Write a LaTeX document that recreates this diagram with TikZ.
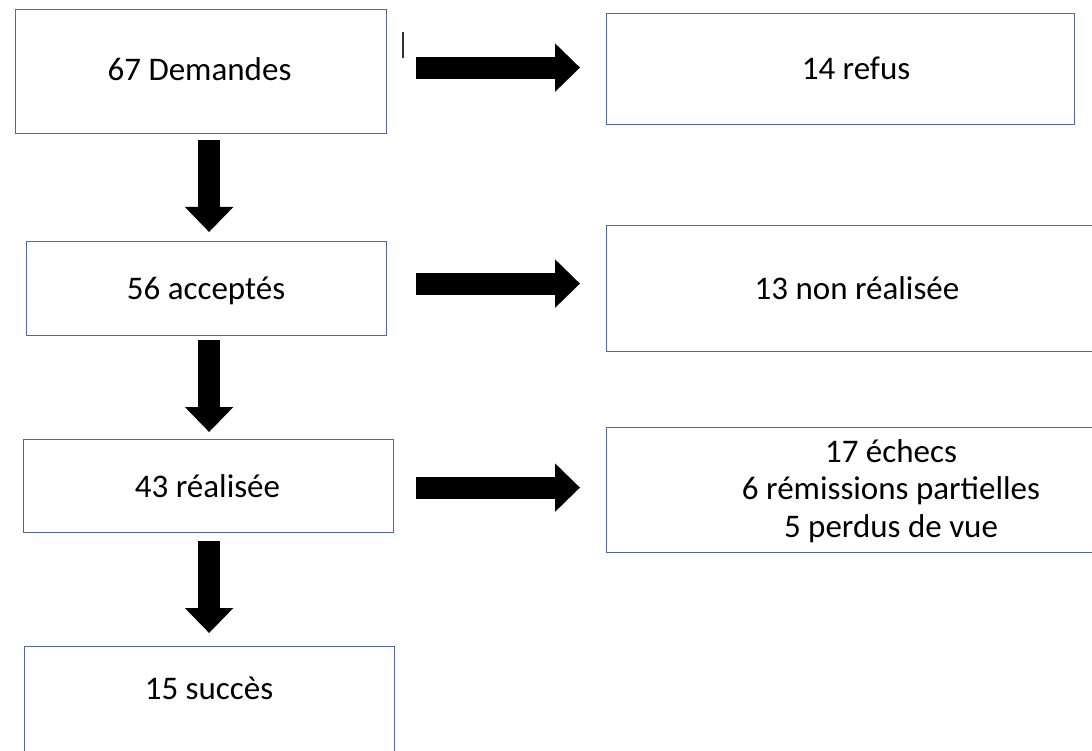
\documentclass[tikz,border=0pt]{standalone}
\usepackage{fontspec}
\setmainfont{Carlito}
\usetikzlibrary{arrows.meta,calc}
\definecolor{boxline}{RGB}{82,104,150}
\tikzset{
  box/.style={draw=boxline, line width=1.2pt, rectangle, anchor=north west, inner sep=0pt},
  lbl/.style={anchor=base, inner sep=0pt, font=\fontsize{33}{37.5}\selectfont, align=center},
  bigarrow/.style={line width=22pt, -{Triangle[length=25pt,width=47pt]}, black},
}
\begin{document}
\begin{tikzpicture}[x=1pt,y=-1pt]
\useasboundingbox (0,0) rectangle (1092,751);
% left column boxes
\node[box, minimum width=371pt, minimum height=124pt] (b1) at (15,9) {};
\node[box, minimum width=360pt, minimum height=94pt] (b2) at (26,241) {};
\node[box, minimum width=370pt, minimum height=93pt] (b3) at (23,439) {};
\node[box, minimum width=370pt, minimum height=130pt] (b4) at (24,646) {};
% right column boxes
\node[box, minimum width=468pt, minimum height=111pt] (r1) at (606,13) {};
\node[box, minimum width=504pt, minimum height=126pt] (r2) at (606,225) {};
\node[box, minimum width=504pt, minimum height=125pt] (r3) at (606,427) {};
% texts
\node[lbl] (t1) at (199.5,81) {67 Demandes};
\node[lbl] (t2) at (206,300) {56 acceptés};
\node[lbl] (t3) at (207.5,497) {43 réalisée};
\node[lbl] (t4) at (209,699) {15 succès};
\node[lbl] (u1) at (856,80) {14 refus};
\node[lbl] (u2) at (857,299) {13 non réalisée};
\node[lbl, anchor=north] (u3) at (891,439) {17 échecs\\6 rémissions partielles\\5 perdus de vue};
% cursor mark
\draw[line width=1.5pt, black!80] (403,32) -- (403,58);
% horizontal arrows
\draw[bigarrow] ($(b1.east)+(29,-4)$) -- ($(b1.east -| r1.west)+(-26,-4)$);
\draw[bigarrow] ($(b2.east)+(29,-5)$) -- ($(b2.east -| r2.west)+(-26,-5)$);
\draw[bigarrow] ($(b3.east)+(22,1.5)$) -- ($(b3.east -| r3.west)+(-26,1.5)$);
% vertical arrows
\draw[bigarrow] ($(b1.south)+(8,6)$) -- ($(b1.south |- b2.north)+(8,-9)$);
\draw[bigarrow] ($(b2.south)+(2.5,4)$) -- ($(b2.south |- b3.north)+(2.5,-7)$);
\draw[bigarrow] ($(b3.south)+(0.5,8)$) -- ($(b3.south |- b4.north)+(0.5,-13)$);
\end{tikzpicture}
\end{document}
